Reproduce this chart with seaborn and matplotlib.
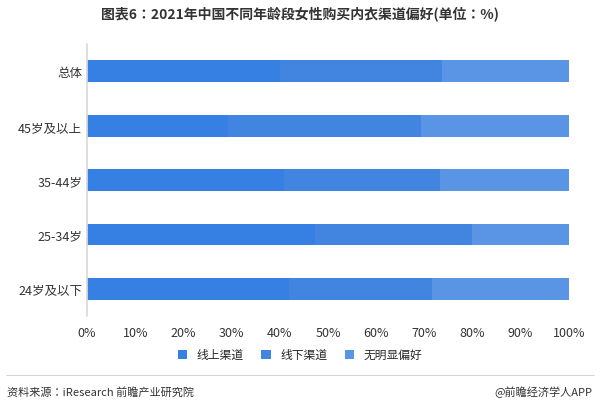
import matplotlib
matplotlib.use("Agg")
import matplotlib.pyplot as plt
from matplotlib import font_manager as fm
import seaborn as sns
import pandas as pd
from matplotlib.ticker import PercentFormatter

cjk = "Noto Sans CJK SC"
for f in fm.findSystemFonts():
    if "CJK" in f or "cjk" in f.lower():
        try:
            fm.fontManager.addfont(f)
        except Exception:
            pass
names = {f.name for f in fm.fontManager.ttflist}
for n in ["Noto Sans CJK SC", "Noto Sans CJK JP", "Noto Sans SC", "Noto Sans CJK"]:
    if n in names:
        cjk = n
        break

sns.set_theme(style="white", rc={"font.family": "sans-serif",
                                 "font.sans-serif": [cjk, "DejaVu Sans"]})

categories = ["总体", "45岁及以上", "35-44岁", "25-34岁", "24岁及以下"]
online = [40.1, 29.2, 40.8, 47.3, 42.0]
offline = [33.6, 40.1, 32.5, 32.7, 29.6]
none_pref = [26.3, 30.7, 26.7, 20.0, 28.4]
series = ["线上渠道", "线下渠道", "无明显偏好"]
colors = ["#3580E2", "#4285E0", "#5A95E5"]

fig, ax = plt.subplots(figsize=(6, 4.06), dpi=100)
fig.subplots_adjust(left=0.145, right=0.948, top=0.889, bottom=0.219)

cum1 = [a + b for a, b in zip(online, offline)]
cum2 = [a + b for a, b in zip(cum1, none_pref)]
for vals, col, lab in [(cum2, colors[2], series[2]), (cum1, colors[1], series[1]), (online, colors[0], series[0])]:
    df = pd.DataFrame({"cat": categories, "v": vals})
    sns.barplot(data=df, y="cat", x="v", color=col, label=lab, width=0.4, ax=ax,
                saturation=1, linewidth=0)

ax.set_xlim(0, 100)
ax.set_xticks(range(0, 101, 10))
ax.xaxis.set_major_formatter(PercentFormatter(decimals=0))
ax.set_xlabel("")
ax.set_ylabel("")
for s in ["top", "right", "bottom"]:
    ax.spines[s].set_visible(False)
ax.spines["left"].set_color("#d9d9d9")
ax.tick_params(axis="both", length=0, labelsize=9, colors="#333333")
ax.tick_params(axis="x", pad=7)

h, l = ax.get_legend_handles_labels()
if ax.get_legend() is not None:
    ax.get_legend().remove()
order = [l.index(s) for s in series]
fig.legend([h[i] for i in order], series, loc="center", bbox_to_anchor=(0.5, 0.124),
           ncol=3, frameon=False, fontsize=8.5, handlelength=0.8, handleheight=0.8, columnspacing=1.5)

fig.text(0.5, 0.955, "图表6：2021年中国不同年龄段女性购买内衣渠道偏好(单位：%)", ha="center",
         fontsize=10, fontweight="bold", color="#333333")
fig.add_artist(plt.Line2D([0.01, 0.99], [0.075, 0.075], color="#cccccc", lw=0.6))
fig.text(0.012, 0.025, "资料来源：iResearch 前瞻产业研究院", fontsize=8, color="#333333")
fig.text(0.988, 0.025, "@前瞻经济学人APP", fontsize=8, color="#333333", ha="right")

fig.savefig("out.png")
